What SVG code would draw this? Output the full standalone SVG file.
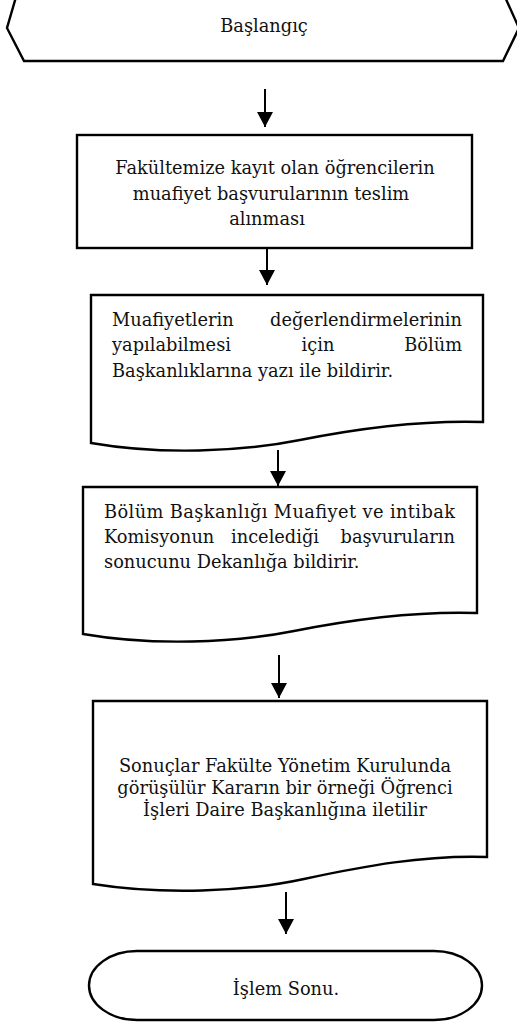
<svg xmlns="http://www.w3.org/2000/svg" width="517" height="1025" viewBox="0 0 517 1025">
<style>
.shape{fill:#fff;stroke:#000;stroke-width:2.4;stroke-linejoin:miter}
.t{font-family:"DejaVu Serif","Liberation Serif",serif;font-size:17.8px;fill:#111}
.m{text-anchor:middle}
.e{text-anchor:end}
.c{stroke:#000;stroke-width:2;fill:none}
</style>
<defs>
<marker id="ah" markerUnits="userSpaceOnUse" markerWidth="16" markerHeight="16" viewBox="0 0 16 16" refX="15" refY="8" orient="auto">
<path d="M0,0 L15,8 L0,16 Z" fill="#000"/>
</marker>
</defs>
<rect width="517" height="1025" fill="#fff"/>
<g id="connectors">
<line class="c" x1="265" y1="89" x2="265" y2="127" marker-end="url(#ah)"/>
<line class="c" x1="267" y1="248" x2="267" y2="285" marker-end="url(#ah)"/>
<line class="c" x1="278" y1="450" x2="278" y2="486" marker-end="url(#ah)"/>
<line class="c" x1="279" y1="655" x2="279" y2="698" marker-end="url(#ah)"/>
<line class="c" x1="286" y1="892" x2="286" y2="934" marker-end="url(#ah)"/>
</g>
<g id="start">
<path class="shape" d="M16,-3 H505 L519,28 L503,61 H24 L7,28 Z"/>
<text class="t m" x="264" y="32">Başlangıç</text>
</g>
<g id="step1">
<rect class="shape" x="77" y="135" width="395" height="113"/>
<text class="t m" x="275" y="174">Fakültemize kayıt olan öğrencilerin</text>
<text class="t m" x="271" y="200">muafiyet başvurularının teslim</text>
<text class="t m" x="267" y="225">alınması</text>
</g>
<g id="step2">
<path class="shape" d="M91,295 H483 V422 C420,420 360,428 300,440 C240,452 160,455 91,443 Z"/>
<text class="t" x="112" y="326">Muafiyetlerin</text>
<text class="t e" x="462" y="326">değerlendirmelerinin</text>
<text class="t" x="112" y="351">yapılabilmesi</text>
<text class="t m" x="318" y="351">için</text>
<text class="t e" x="462" y="351">Bölüm</text>
<text class="t" x="112" y="377">Başkanlıklarına yazı ile bildirir.</text>
</g>
<g id="step3">
<path class="shape" d="M83,487 H477 V613 C414,611 354,619 294,631 C234,643 152,646 83,634 Z"/>
<text class="t" x="104" y="518" textLength="351" lengthAdjust="spacing">Bölüm Başkanlığı Muafiyet ve intibak</text>
<text class="t" x="104" y="543">Komisyonun</text>
<text class="t m" x="275" y="543">incelediği</text>
<text class="t e" x="455" y="543">başvuruların</text>
<text class="t" x="104" y="568">sonucunu Dekanlığa bildirir.</text>
</g>
<g id="step4">
<path class="shape" d="M93,701 H487 V857 C424,855 364,866 304,879 C244,892 162,895 93,884 Z"/>
<text class="t m" x="285" y="772">Sonuçlar Fakülte Yönetim Kurulunda</text>
<text class="t m" x="285" y="794">görüşülür Kararın bir örneği Öğrenci</text>
<text class="t m" x="285" y="816">İşleri Daire Başkanlığına iletilir</text>
</g>
<g id="end">
<rect class="shape" x="89" y="951" width="393" height="69" rx="48" ry="34.5"/>
<text class="t m" x="286" y="995">İşlem Sonu.</text>
</g>
</svg>
